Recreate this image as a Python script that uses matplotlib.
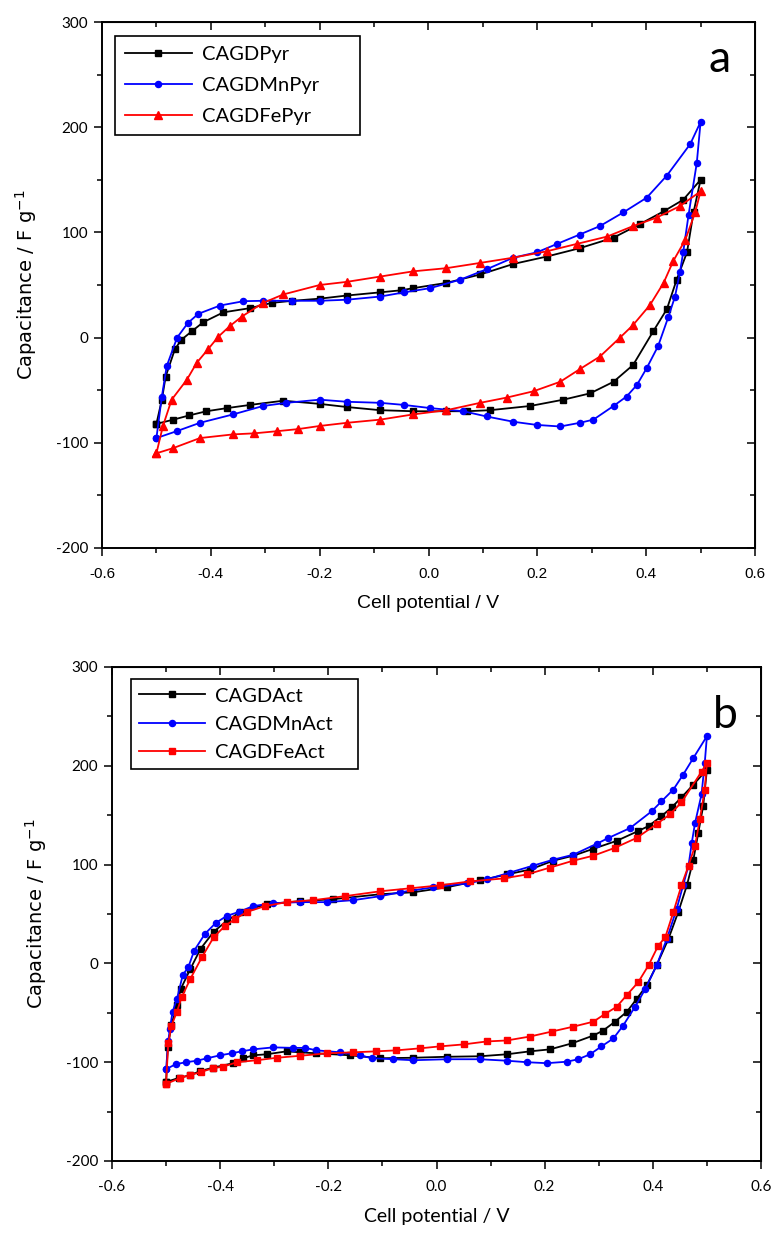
import matplotlib
matplotlib.use('Agg')
import matplotlib.pyplot as plt
from matplotlib.ticker import MultipleLocator
import numpy as np

# ---------------- Panel a data (Pyr series) ----------------
pyr_fwd_x = [-0.5, -0.49, -0.483, -0.466, -0.454, -0.435, -0.414, -0.377, -0.328, -0.288, -0.25, -0.2, -0.15,
             -0.089, -0.05, -0.028, 0.033, 0.095, 0.156, 0.217, 0.278, 0.34, 0.389, 0.432, 0.468, 0.5]
pyr_fwd_y = [-82, -59, -37, -11, -2, 6, 14.6, 24, 28, 33, 35, 37, 40,
             43, 45, 47, 52, 60, 70, 77, 85, 95, 108, 120, 131, 150]
pyr_rev_x = [0.487, 0.475, 0.456, 0.438, 0.413, 0.376, 0.34, 0.297, 0.248, 0.187, 0.113, 0.07, 0.033, -0.028,
             -0.089, -0.15, -0.2, -0.267, -0.328, -0.37, -0.408, -0.44, -0.469, -0.5]
pyr_rev_y = [119, 81, 55, 27, 6, -26, -42, -53, -59, -65, -69, -70, -70, -70,
             -69, -66, -63, -60, -64, -67, -70, -74, -78, -82]

mnpyr_fwd_x = [-0.5, -0.49, -0.481, -0.462, -0.442, -0.423, -0.383, -0.34, -0.304, -0.25, -0.2, -0.15,
               -0.089, -0.045, 0.003, 0.058, 0.107, 0.156, 0.199, 0.236, 0.278, 0.315, 0.358, 0.401, 0.438,
               0.481, 0.5]
mnpyr_fwd_y = [-95.5, -56, -27, 0, 14, 22.6, 30.5, 34.6, 35, 35, 35, 36,
               39, 43, 47, 55, 65, 76, 81, 89, 98, 106, 119, 133, 154,
               184, 205]
mnpyr_rev_x = [0.493, 0.478, 0.468, 0.462, 0.453, 0.441, 0.422, 0.401, 0.383, 0.364, 0.34, 0.303, 0.278,
               0.242, 0.199, 0.156, 0.107, 0.064, 0.003, -0.045, -0.089, -0.15, -0.2, -0.261, -0.304, -0.359,
               -0.42, -0.463, -0.5]
mnpyr_rev_y = [166, 117, 81, 62, 39, 20, -8, -29, -45, -56, -65, -78, -81,
               -84.5, -83, -80, -75, -70, -67, -64, -62, -61, -59, -62, -65, -73,
               -81, -89, -95.5]

fepyr_fwd_x = [-0.5, -0.488, -0.472, -0.444, -0.426, -0.405, -0.386, -0.365, -0.343, -0.304, -0.267, -0.2, -0.15,
               -0.089, -0.028, 0.033, 0.095, 0.156, 0.217, 0.272, 0.328, 0.376, 0.419, 0.462, 0.5]
fepyr_fwd_y = [-110, -84, -59, -40, -24, -11, 1, 11, 20, 33, 41, 50, 53,
               58, 63, 66, 71, 76, 82, 89, 96, 106, 114, 125, 139]
fepyr_rev_x = [0.49, 0.472, 0.45, 0.432, 0.407, 0.376, 0.352, 0.315, 0.278, 0.242, 0.193, 0.144, 0.095,
               0.033, -0.028, -0.089, -0.15, -0.2, -0.24, -0.279, -0.32, -0.359, -0.42, -0.469, -0.5]
fepyr_rev_y = [119, 93, 73, 52, 31, 12, 0, -18, -30, -42, -51, -57, -62,
               -69, -73, -78, -81, -84, -87, -89, -91, -92, -95.5, -105, -110]

# ---------------- Panel b data (Act series) ----------------
act_fwd_x = [-0.5, -0.497, -0.49, -0.48, -0.473, -0.455, -0.436, -0.412, -0.388, -0.363, -0.314, -0.252, -0.191,
             -0.104, -0.043, 0.019, 0.08, 0.13, 0.173, 0.216, 0.253, 0.29, 0.333, 0.373, 0.392, 0.416,
             0.435, 0.453, 0.475, 0.5]
act_fwd_y = [-120, -85, -62, -42, -26, -5.5, 15, 32, 43, 52, 60, 63, 65,
             70, 72, 77, 84, 90, 95, 104, 109, 116, 124, 134, 139, 149,
             158, 168, 181, 196]
act_rev_x = [0.493, 0.484, 0.475, 0.463, 0.447, 0.429, 0.407, 0.389, 0.37, 0.352, 0.33, 0.308, 0.29, 0.25,
             0.21, 0.173, 0.13, 0.08, 0.019, -0.043, -0.104, -0.16, -0.222, -0.252, -0.277, -0.314,
             -0.339, -0.357, -0.376, -0.413, -0.437, -0.455, -0.477, -0.5]
act_rev_y = [159, 132, 105, 79, 52, 25, -2, -22, -36, -49, -59, -68, -73, -81,
             -87, -89, -92, -94, -94.5, -95.5, -96, -93, -91, -90, -89, -92,
             -93, -96, -101, -105.5, -109, -113, -116, -120]

mnact_fwd_x = [-0.5, -0.496, -0.493, -0.488, -0.48, -0.469, -0.459, -0.448, -0.428, -0.408, -0.388, -0.366,
               -0.339, -0.302, -0.252, -0.203, -0.154, -0.104, -0.067, -0.006, 0.056, 0.093, 0.136, 0.179,
               0.216, 0.253, 0.296, 0.318, 0.358, 0.398, 0.416, 0.438, 0.456, 0.475, 0.5]
mnact_fwd_y = [-107, -79, -66, -49, -36, -11.5, -4, 13, 30, 41, 48, 52,
               58, 61, 62, 62, 64, 68, 72, 77, 81, 85, 92, 99,
               105, 110, 121, 127, 137, 154, 164, 176, 191, 208, 230]
mnact_rev_x = [0.496, 0.49, 0.478, 0.472, 0.466, 0.456, 0.444, 0.426, 0.407, 0.386, 0.367, 0.345, 0.327,
               0.305, 0.284, 0.262, 0.241, 0.204, 0.167, 0.13, 0.08, 0.019, -0.043, -0.08, -0.12, -0.141,
               -0.178, -0.222, -0.243, -0.265, -0.302, -0.339, -0.36, -0.379, -0.4, -0.424, -0.443,
               -0.463, -0.482, -0.5]
mnact_rev_y = [203, 171, 142, 122, 99, 79, 55, 25, -2, -26, -44, -63, -76,
               -84, -92, -97, -99.5, -101, -100, -98.5, -97, -97, -98, -97, -96, -93,
               -90, -88, -85.5, -85.5, -85, -87, -89, -91, -93, -96, -98.5,
               -100, -102, -107]

feact_fwd_x = [-0.5, -0.496, -0.49, -0.48, -0.471, -0.455, -0.434, -0.412, -0.391, -0.372, -0.351, -0.317,
               -0.277, -0.228, -0.17, -0.104, -0.049, 0.006, 0.062, 0.124, 0.167, 0.21, 0.253, 0.29,
               0.33, 0.37, 0.407, 0.432, 0.453, 0.49, 0.5]
feact_fwd_y = [-122, -81, -63, -49, -34, -15.5, 6, 26.5, 38, 45, 52, 58,
               62, 64, 68, 73, 76, 79, 83, 86, 90, 97, 104, 109,
               117, 127, 141, 151, 163, 194, 203]
feact_rev_x = [0.496, 0.487, 0.478, 0.466, 0.453, 0.438, 0.423, 0.41, 0.392, 0.373, 0.352, 0.333, 0.312,
               0.29, 0.253, 0.213, 0.173, 0.13, 0.093, 0.05, 0.006, -0.031, -0.074, -0.111, -0.154,
               -0.203, -0.252, -0.295, -0.332, -0.369, -0.394, -0.413, -0.436, -0.455, -0.474, -0.5]
feact_rev_y = [176, 146, 119, 99, 79, 52, 26.5, 18, -2, -19, -32, -44, -51,
               -59, -64, -69, -74, -78, -79, -82, -84, -86, -88, -89, -90,
               -91, -93.5, -95.5, -98, -100, -104.5, -106, -110, -113, -116, -122]

labels_a = ['CAGDPyr', 'CAGDMnPyr', 'CAGDFePyr']
labels_b = ['CAGDAct', 'CAGDMnAct', 'CAGDFeAct']
x_ticks = [-0.6, -0.4, -0.2, 0.0, 0.2, 0.4, 0.6]
y_ticks = [-200, -100, 0, 100, 200, 300]

BLACK, BLUE, RED = '#000000', '#0000ff', '#ff0000'
NARROW = ['Liberation Sans', 'DejaVu Sans']
WIDE = ['Lato', 'DejaVu Sans']

fig = plt.figure(figsize=(7.78, 12.38), dpi=100)
axa = fig.add_axes([102 / 778, 1 - 548 / 1238, 653 / 778, 526 / 1238])
axb = fig.add_axes([112 / 778, 1 - 1161 / 1238, 649 / 778, 494 / 1238])


def loop(fx, fy, rx, ry):
    return np.concatenate([fx, rx]), np.concatenate([fy, ry])


series_a = [
    (pyr_fwd_x, pyr_fwd_y, pyr_rev_x, pyr_rev_y, BLACK, 's', 3.8),
    (mnpyr_fwd_x, mnpyr_fwd_y, mnpyr_rev_x, mnpyr_rev_y, BLUE, 'o', 4.4),
    (fepyr_fwd_x, fepyr_fwd_y, fepyr_rev_x, fepyr_rev_y, RED, '^', 5.4),
]
series_b = [
    (act_fwd_x, act_fwd_y, act_rev_x, act_rev_y, BLACK, 's', 3.8),
    (mnact_fwd_x, mnact_fwd_y, mnact_rev_x, mnact_rev_y, BLUE, 'o', 4.4),
    (feact_fwd_x, feact_fwd_y, feact_rev_x, feact_rev_y, RED, 's', 4.2),
]


def style(ax, xlabel_family, xlabel_size, xtick_family):
    ax.set_xlim(-0.6, 0.6)
    ax.set_ylim(-200, 300)
    ax.set_xticks(x_ticks)
    ax.set_yticks(y_ticks)
    ax.xaxis.set_minor_locator(MultipleLocator(0.1))
    ax.yaxis.set_minor_locator(MultipleLocator(50))
    ax.set_xticklabels(['%.1f' % v for v in x_ticks], family=xtick_family, fontsize=11)
    ax.set_yticklabels(['%d' % v for v in y_ticks], family=WIDE, fontsize=11)
    ax.tick_params(which='major', direction='out', length=6, width=1.1, pad=8)
    ax.tick_params(which='minor', direction='out', length=3.5, width=1.1)
    ax.tick_params(axis='y', which='major', pad=4)
    for s in ax.spines.values():
        s.set_linewidth(1.4)
    top = ax.secondary_xaxis('top')
    top.set_xticks(x_ticks)
    top.xaxis.set_minor_locator(MultipleLocator(0.1))
    top.tick_params(which='both', direction='in', labeltop=False)
    top.tick_params(which='major', length=6, width=1.1)
    top.tick_params(which='minor', length=3.5, width=1.1)
    right = ax.secondary_yaxis('right')
    right.set_yticks(y_ticks)
    right.yaxis.set_minor_locator(MultipleLocator(50))
    right.tick_params(which='both', direction='in', labelright=False)
    right.tick_params(which='major', length=6, width=1.1)
    right.tick_params(which='minor', length=3.5, width=1.1)
    ax.set_xlabel('Cell potential / V', family=xlabel_family, fontsize=xlabel_size, labelpad=10)
    ax.set_ylabel('Capacitance / F g$^{-1}$', family=['DejaVu Sans'], fontsize=14, labelpad=12)


for ax, series, labels in [(axa, series_a, labels_a), (axb, series_b, labels_b)]:
    for (fx, fy, rx, ry, c, m, ms), lab in zip(series, labels):
        x, y = loop(fx, fy, rx, ry)
        ax.plot(x, y, color=c, lw=1.3, marker=m, ms=ms, mec=c, mfc=c, label=lab)

style(axa, NARROW, 14, NARROW)
style(axb, WIDE, 14, WIDE)

la = axa.legend(loc='upper left', bbox_to_anchor=(0.02, 0.783, 0.375, 0.19), mode='expand',
                borderaxespad=0, fancybox=False, edgecolor='black', framealpha=1,
                handlelength=3.3, handletextpad=0.5, borderpad=0.5, labelspacing=0.68,
                prop={'family': WIDE, 'size': 14.5})
la.get_frame().set_linewidth(1.2)
lb = axb.legend(loc='upper left', bbox_to_anchor=(0.029, 0.785, 0.35, 0.19), mode='expand',
                borderaxespad=0, fancybox=False, edgecolor='black', framealpha=1,
                handlelength=3.3, handletextpad=0.5, borderpad=0.4, labelspacing=0.55,
                prop={'family': WIDE, 'size': 14.5})
lb.get_frame().set_linewidth(1.2)

axa.text(0.946, 0.905, 'a', transform=axa.transAxes, ha='center', va='baseline',
         fontsize=32, family=WIDE)
axb.text(0.9445, 0.8765, 'b', transform=axb.transAxes, ha='center', va='baseline',
         fontsize=32, family=WIDE)

fig.savefig('out.png', dpi=100)
